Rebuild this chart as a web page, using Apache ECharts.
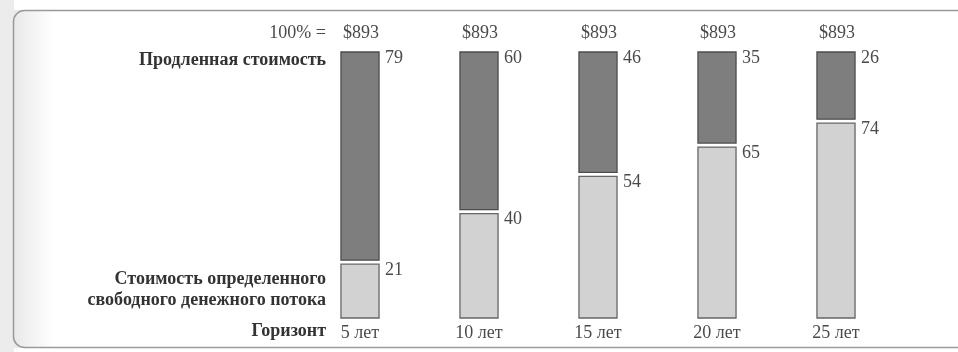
<!DOCTYPE html>
<html>
<head>
<meta charset="utf-8">
<script src="https://cdn.jsdelivr.net/npm/echarts@6/dist/echarts.min.js"></script>
<style>
html,body{margin:0;padding:0;background:#fff;}
#chart{width:958px;height:352px;}
</style>
</head>
<body>
<div id="chart"></div>
<script>
const categories = ['5 лет', '10 лет', '15 лет', '20 лет', '25 лет'];
const fcfShare = [21, 40, 54, 65, 74];
const continuingShare = [79, 60, 46, 35, 26];
const totals = [893, 893, 893, 893, 893];

const SERIF = '"Liberation Serif", "DejaVu Serif", serif';
const NUM_COLOR = '#4a4a4a';
const LABEL_FONT = 'bold 18px ' + SERIF;

function makeRender(kind) {
  return function (params, api) {
    const i = api.value(0), lo = api.value(1), hi = api.value(2), lab = api.value(3);
    const b = api.coord([i, lo]);
    const t = api.coord([i, hi]);
    const w = api.size([1, 0])[0] * 0.32;
    const gapTop = kind === 'fcf' ? 2 : 0;
    const gapBot = kind === 'cont' ? 2 : 0;
    const x = b[0] - w / 2;
    const y = t[1] + gapTop;
    const h = (b[1] - gapBot) - y;
    const children = [{
      type: 'rect',
      shape: { x: x, y: y, width: w, height: h },
      style: {
        fill: kind === 'cont' ? '#7e7e7e' : '#d2d2d2',
        stroke: kind === 'cont' ? '#4d4d4d' : '#666',
        lineWidth: 1.3
      }
    }, {
      type: 'text',
      x: x + w + 6, y: y - 3,
      style: {
        text: String(lab), fill: NUM_COLOR, font: '18px ' + SERIF,
        textAlign: 'left', textVerticalAlign: 'top'
      }
    }];
    if (kind === 'cont') {
      children.push({
        type: 'text',
        x: b[0] + 1, y: t[1] - 19,
        style: {
          text: '$' + api.value(4), fill: NUM_COLOR, font: '18px ' + SERIF,
          textAlign: 'center', textVerticalAlign: 'middle'
        }
      });
    }
    return { type: 'group', children: children };
  };
}

const fcfData = categories.map((c, i) => [i, 0, fcfShare[i], fcfShare[i]]);
const contData = categories.map((c, i) => [i, fcfShare[i], fcfShare[i] + continuingShare[i], continuingShare[i], totals[i]]);

const chart = echarts.init(document.getElementById('chart'), null, { renderer: 'canvas' });
chart.setOption({
  animation: false,
  backgroundColor: '#fff',
  grid: { left: 300.5, right: 62.5, top: 52, bottom: 34 },
  xAxis: {
    type: 'category',
    data: categories,
    axisLine: { show: false },
    axisTick: { show: false },
    axisLabel: { fontSize: 18, color: NUM_COLOR, fontFamily: SERIF, margin: 6 }
  },
  yAxis: { type: 'value', min: 0, max: 100, show: false },
  graphic: [
    { type: 'rect', z: -10, shape: { x: 0, y: 0, width: 14, height: 352 }, style: { fill: '#ececec' } },
    { type: 'rect', z: -10, shape: { x: 14, y: 10, width: 40, height: 338 },
      style: { fill: new echarts.graphic.LinearGradient(0, 0, 1, 0, [{ offset: 0, color: '#e9e9e9' }, { offset: 1, color: '#ffffff' }]) } },
    { type: 'rect', z: -5, shape: { x: 13.5, y: 10.5, width: 1000, height: 337, r: 11 },
      style: { fill: null, stroke: '#9a9a9a', lineWidth: 1.5 } },
    { type: 'text', x: 326, y: 33, style: { text: '100% =', fill: NUM_COLOR, font: '18px ' + SERIF, textAlign: 'right', textVerticalAlign: 'middle' } },
    { type: 'text', x: 326, y: 60, style: { text: 'Продленная стоимость', fill: '#333', font: LABEL_FONT, textAlign: 'right', textVerticalAlign: 'middle' } },
    { type: 'text', x: 326, y: 279, style: { text: 'Стоимость определенного', fill: '#333', font: LABEL_FONT, textAlign: 'right', textVerticalAlign: 'middle' } },
    { type: 'text', x: 326, y: 300, style: { text: 'свободного денежного потока', fill: '#333', font: LABEL_FONT, textAlign: 'right', textVerticalAlign: 'middle' } },
    { type: 'text', x: 326, y: 331, style: { text: 'Горизонт', fill: '#333', font: LABEL_FONT, textAlign: 'right', textVerticalAlign: 'middle' } }
  ],
  series: [
    { type: 'custom', name: 'Стоимость определенного свободного денежного потока', renderItem: makeRender('fcf'), data: fcfData },
    { type: 'custom', name: 'Продленная стоимость', renderItem: makeRender('cont'), data: contData }
  ]
});
</script>
</body>
</html>
